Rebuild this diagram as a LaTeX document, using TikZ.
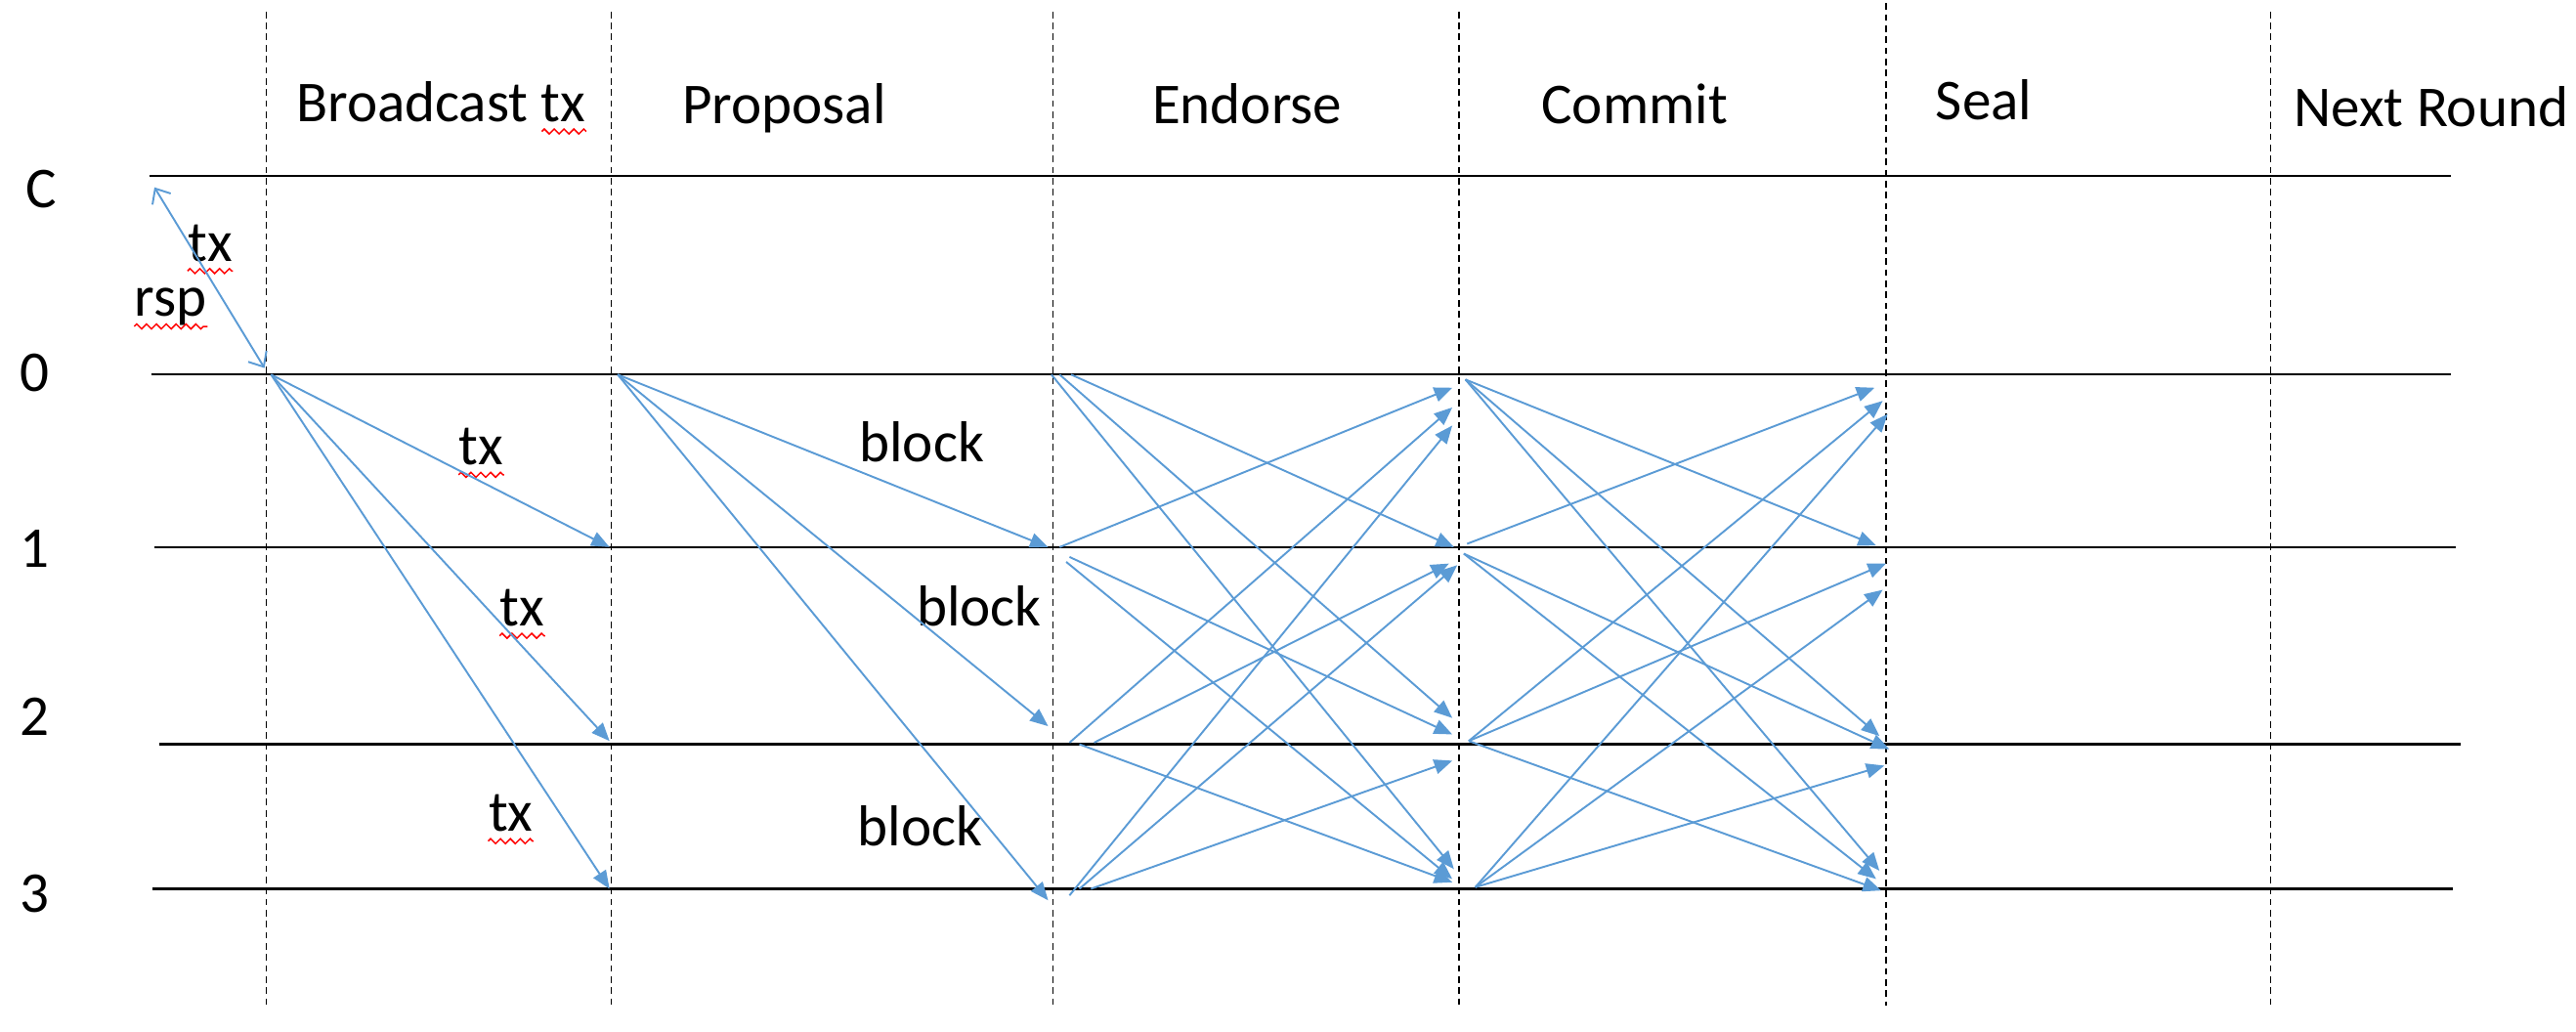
\documentclass[tikz,border=0pt]{standalone}
\usepackage{fontspec}
\setmainfont{Carlito}
\usetikzlibrary{arrows.meta,decorations.pathmorphing}
\definecolor{msgblue}{RGB}{91,155,213}
\begin{document}
\begin{tikzpicture}[x=0.2mm,y=-0.2mm,
  lane/.style={draw=black,line width=0.75pt},
  phase/.style={draw=black,line width=0.5pt,dash pattern=on 0.8mm off 0.55mm},
  msg/.style={draw=msgblue,line width=0.65pt,-{Triangle[length=2.2mm,width=1.8mm]}},
  reqrsp/.style={draw=msgblue,line width=0.65pt,
                 {Straight Barb[length=1.5mm,width=2.6mm]}-{Straight Barb[length=1.5mm,width=2.6mm]}},
  lbl/.style={inner sep=0pt,font=\fontsize{20}{24}\selectfont},
  spell/.style={draw=red,line width=0.5pt,decorate,
                decoration={zigzag,segment length=1.2mm,amplitude=0.3mm}}]
\path[use as bounding box] (0,0) rectangle (1568,628);
\foreach \x/\top in {162/7,372/7,641/7,888/7,1148/2,1382/7}
  \draw[phase] (\x,\top) -- (\x,612);
\foreach \y/\a/\b in {107/91/1492,228/92/1492,333/94/1495,453/97/1498,541/93/1493}
  \draw[lane] (\a,\y) -- (\b,\y);
\node[lbl,anchor=base west] (hBcast) at (180,74) {Broadcast tx};
\node[lbl,anchor=base west] (hProp) at (415,75) {Proposal};
\node[lbl,anchor=base west] (hEnd) at (701,75) {Endorse};
\node[lbl,anchor=base west] (hCom) at (938,75) {Commit};
\node[lbl,anchor=base west] (hSeal) at (1178,73) {Seal};
\node[lbl,anchor=base west] (hNext) at (1396,77) {Next Round};
\node[lbl] (rC) at (25,115) {C};
\node[lbl] (r0) at (21,227) {0};
\node[lbl] (r1) at (21,334) {1};
\node[lbl] (r2) at (21,436) {2};
\node[lbl] (r3) at (21,544) {3};
\node[lbl] (txC) at (128,148) {tx};
\node[lbl] (rsp) at (104,187) {rsp};
\node[lbl] (tx1) at (293,272) {tx};
\node[lbl] (tx2) at (318,370) {tx};
\node[lbl] (tx3) at (311,495) {tx};
\node[lbl] (blk1) at (561,269) {block};
\node[lbl] (blk2) at (596,369) {block};
\node[lbl] (blk3) at (560,503) {block};
\foreach \w in {txC,rsp,tx1,tx2,tx3}
  \draw[spell] ([yshift=-1.2mm]\w.base west) -- ([yshift=-1.2mm]\w.base east);
\draw[spell] ([xshift=-5.4mm,yshift=-1.2mm]hBcast.base east) -- ([yshift=-1.2mm]hBcast.base east);
\coordinate (cli) at (94,114);
\coordinate (nd0) at (161,224);
\draw[reqrsp] (cli) -- (nd0);
\coordinate (bsrc) at (165,228);
\foreach \r/\y in {1/333,2/451,3/541}
  {\coordinate (bdst\r) at (371,\y); \draw[msg] (bsrc) -- (bdst\r);}
\coordinate (psrc) at (376,228);
\foreach \r/\y in {1/333,2/442,3/548}
  {\coordinate (pdst\r) at (638,\y); \draw[msg] (psrc) -- (pdst\r);}
\foreach \s/\t/\xs/\ys/\xe/\ye in {0/1/652/228/885/333,0/2/645/228/884/437,0/3/640/228/885/529,
    1/0/645/333/884/236,1/2/651/339/884/447,1/3/649/342/884/535,
    2/0/651/452/884/248,2/1/666/452/882/343,2/3/657/453/884/537,
    3/0/651/545/884/259,3/1/657/541/887/344,3/2/664/541/884/463}
  {\coordinate (es\s\t) at (\xs,\ys); \coordinate (ed\s\t) at (\xe,\ye);
   \draw[msg] (es\s\t) -- (ed\s\t);}
\foreach \s/\t/\xs/\ys/\xe/\ye in {0/1/892/231/1142/332,0/2/892/231/1144/448,0/3/892/231/1144/530,
    1/0/893/331/1141/236,1/2/891/337/1150/456,1/3/891/337/1142/535,
    2/0/894/451/1146/244,2/1/894/451/1148/343,2/3/894/451/1145/542,
    3/0/898/540/1149/252,3/1/898/540/1146/359,3/2/898/540/1147/466}
  {\coordinate (cs\s\t) at (\xs,\ys); \coordinate (cd\s\t) at (\xe,\ye);
   \draw[msg] (cs\s\t) -- (cd\s\t);}
\end{tikzpicture}
\end{document}
